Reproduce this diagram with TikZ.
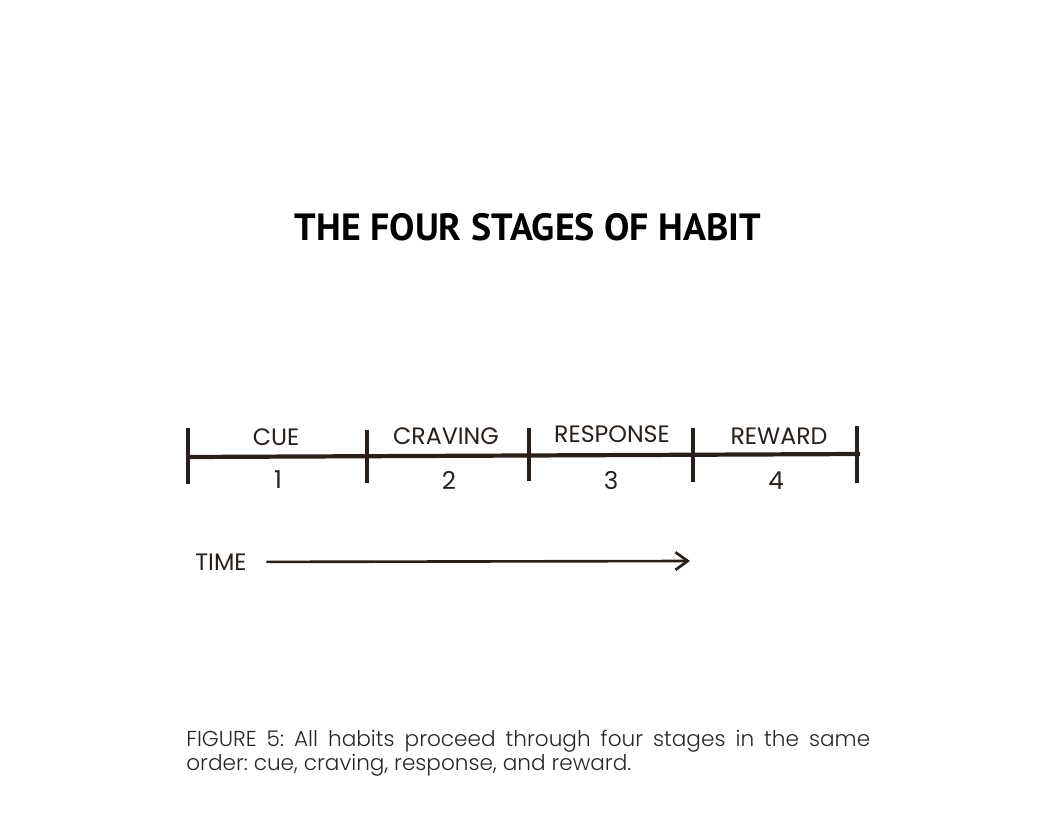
\documentclass[tikz,border=0pt]{standalone}
\usepackage{fontspec}
\usetikzlibrary{arrows.meta, positioning}
\newfontfamily\titlefont{PT Sans}
\newfontfamily\handfont{Poppins}
\newfontfamily\capfont{Poppins}[UprightFont = *-Light]
\definecolor{ink}{HTML}{2A1E18}

\begin{document}
\begin{tikzpicture} [%
    x = 0.02cm, y = -0.02cm,
    >= {Straight Barb[length=7pt, width=10pt]},
    every node/.style = {inner sep = 0pt},
    stage/.style = {%
      font = \handfont\fontsize{13.5}{13.5}\selectfont,
      text = ink },
    count/.style = {%
      font = \handfont\fontsize{14}{14}\selectfont,
      text = ink },
    tickline/.style = {ink, line width = 1.8pt},
    axis/.style = {ink, line width = 2.4pt}
  ]

\useasboundingbox (0,0) rectangle (1064,828);

\node[font = \titlefont\bfseries\fontsize{21.6}{21.6}\selectfont] (title) at (528,227) {THE FOUR STAGES OF HABIT};

% ticks of the time line
\coordinate (t0u) at (188,428); \coordinate (t0d) at (188,484);
\coordinate (t1u) at (367,430); \coordinate (t1d) at (367,483);
\coordinate (t2u) at (529,428); \coordinate (t2d) at (529,481);
\coordinate (t3u) at (693,428); \coordinate (t3d) at (693,482);
\coordinate (t4u) at (857,426); \coordinate (t4d) at (857,483);
\coordinate (t0) at (188,457);
\coordinate (t4) at (860,454);

\draw[axis] (t0) -- (t4);
\draw[tickline] (t0u) -- (t0d);
\draw[tickline] (t1u) -- (t1d);
\draw[tickline] (t2u) -- (t2d);
\draw[tickline] (t3u) -- (t3d);
\draw[tickline] (t4u) -- (t4d);

\node[stage] (cue)      at (276,437) {CUE};
\node[stage] (craving)  at (446,436) {CRAVING};
\node[stage] (response) at (612,434) {RESPONSE};
\node[stage] (reward)   at (779,436) {REWARD};

\node[count] (n1) at (278,480) {1};
\node[count] (n2) at (449,480) {2};
\node[count] (n3) at (611,480) {3};
\node[count] (n4) at (776,481) {4};

\node[stage] (time) at (221,562) {TIME};
\coordinate (now) at (690,561);
\path[->, axis, line width = 1.5pt] (time) edge [shorten <= 11pt] (now);

\node[anchor = north west, text width = 13.68cm, align = justify,
      font = \capfont\fontsize{12.3}{13.6}\selectfont\frenchspacing, text = black!85] (caption) at (186,730)
  {FIGURE 5: All habits proceed through four stages in the same\linebreak
   order: cue, craving, response, and reward.};

\end{tikzpicture}
\end{document}
